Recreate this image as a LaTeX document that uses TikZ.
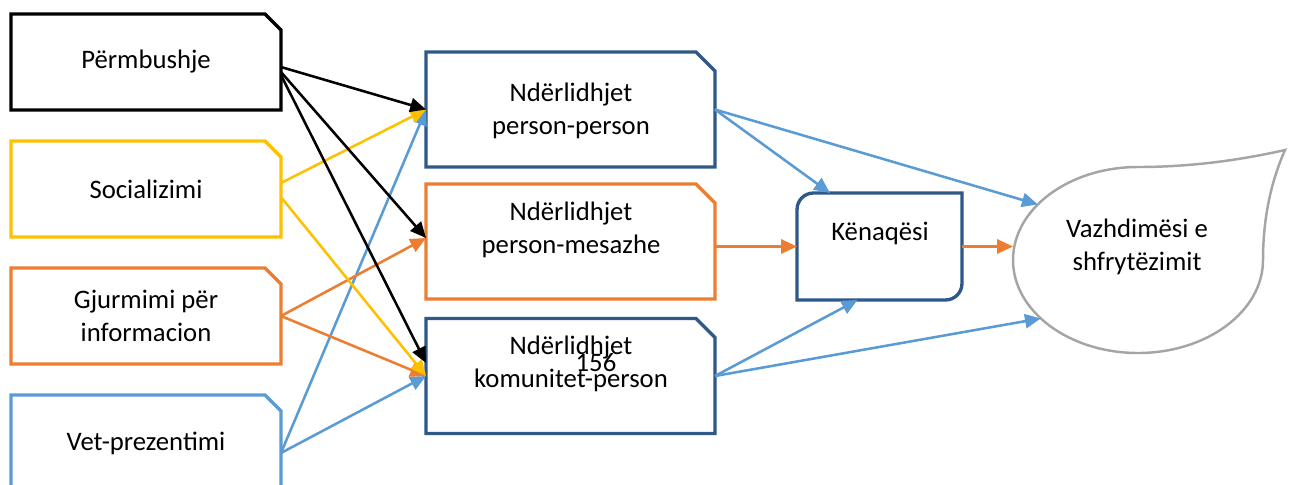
\documentclass[tikz,border=0pt]{standalone}
\usepackage{fontspec}
\setmainfont{Carlito}
\usepackage{tikz}
\usetikzlibrary{arrows.meta, shapes.geometric, calc}

\definecolor{wdgold}{HTML}{FFC000}
\definecolor{wdorange}{HTML}{ED7D31}
\definecolor{wdblue}{HTML}{5B9BD5}
\definecolor{wdnavy}{HTML}{2E5887}
\definecolor{wdgray}{HTML}{A5A5A5}

\tikzset{
  lbl/.style={font=\fontsize{15.2}{18.7}\selectfont, align=center},
  leftbox/.style={minimum width=5.4cm, minimum height=1.92cm, inner sep=0pt, outer sep=0pt},
  midbox/.style={minimum width=5.78cm, minimum height=2.3cm, inner sep=0pt, outer sep=0pt},
  boxline/.style={line width=1.9pt, line join=miter},
  link/.style={line width=1.45pt, -{Triangle[length=9pt,width=8pt]}},
}
% box with the top right corner cut off: node, colour, cut
\newcommand{\snipframe}[3]{%
  \draw[boxline, #2] (#1.south west) -- (#1.north west) -- ([xshift=-#3]#1.north east)
    -- ([yshift=-#3]#1.north east) -- (#1.south east) -- cycle;}

\begin{document}
\begin{tikzpicture}[x=0.02cm, y=-0.02cm]
  \useasboundingbox (0,0) rectangle (1291,484);
  \clip (0,0) rectangle (1291,484);

  % Left column
  \node[leftbox, lbl] (perm) at (146,62) {Përmbushje};
  \node[leftbox, lbl] (soc) at (146,189) {Socializimi};
  \node[leftbox, lbl] (gjur) at (146,316) {Gjurmimi për\\informacion};
  \node[leftbox, lbl] (vet) at (146,443) {Vet-prezentimi};
  \snipframe{perm}{black}{0.32cm}
  \snipframe{soc}{wdgold}{0.32cm}
  \snipframe{gjur}{wdorange}{0.32cm}
  \snipframe{vet}{wdblue}{0.32cm}

  % Middle column
  \node[midbox] (npp) at (570.5,109.5) {};
  \node[midbox] (npm) at (570.5,241.5) {};
  \node[midbox] (nkp) at (570.5,376) {};
  \snipframe{npp}{wdnavy}{0.38cm}
  \snipframe{npm}{wdorange}{0.38cm}
  \snipframe{nkp}{wdnavy}{0.38cm}
  \node[lbl] (nppt) at (571,111) {Ndërlidhjet\\person-person};
  \node[lbl] (npmt) at (571,230) {Ndërlidhjet\\person-mesazhe};
  \node[lbl] (nkpt) at (571,364) {Ndërlidhjet\\komunitet-person};
  \node[lbl] (pgno) at (596,363) {156};

  % Satisfaction box
  \node[minimum width=3.3cm, minimum height=2.14cm, inner sep=0pt, outer sep=0pt] (ken) at (879.5,246.5) {};
  \draw[boxline, wdnavy] (ken.west) [rounded corners=0.33cm] -- (ken.north west) -- (ken.north)
    [sharp corners] -- (ken.north east) -- (ken.east)
    [rounded corners=0.33cm] -- (ken.south east) -- (ken.south)
    [sharp corners] -- (ken.south west) -- cycle;
  \node[lbl] (kent) at (880,233) {Kënaqësi};

  % Teardrop
  \node[ellipse, minimum width=5cm, minimum height=3.72cm, inner sep=0pt, outer sep=0pt] (vaz) at (1138,260) {};
  \draw[line width=1.4pt, wdgray] (1013,260) .. controls (1013,208.7) and (1069,167) .. (1138,167)
    .. controls (1186,167) and (1235,161.3) .. (1285,150)
    .. controls (1270.3,183.3) and (1263,220) .. (1263,260)
    .. controls (1263,311.3) and (1207,353) .. (1138,353)
    .. controls (1069,353) and (1013,311.3) .. (1013,260) -- cycle;
  \node[lbl] (vazt) at (1137,247) {Vazhdimësi e\\shfrytëzimit};

  % Arrows into the middle column
  \draw[link, wdblue] ([yshift=-0.2cm]vet.east) -- (npp.west);
  \draw[link, wdblue] ([yshift=-0.2cm]vet.east) -- (nkp.west);
  \draw[link, wdorange] (gjur.east) -- ([yshift=0.07cm]npm.west);
  \draw[link, wdorange] (gjur.east) -- (nkp.west);
  \draw[link, wdgold] ([yshift=0.12cm]soc.east) -- (npp.west);
  \draw[link, wdgold] ([yshift=-0.16cm]soc.east) -- (nkp.west);
  \draw[link, black] ([yshift=-0.1cm]perm.east) -- (npp.west);
  \draw[link, black] ([yshift=-0.2cm]perm.east) -- ([yshift=0.07cm]npm.west);
  \draw[link, black] ([yshift=-0.26cm]perm.east) -- ([yshift=0.26cm]nkp.west);

  % Arrows to the right
  \draw[link, wdblue] (npp.east) -- ([xshift=0.66cm]ken.north west);
  \draw[link, wdblue] (npp.east) -- (vaz.151);
  \draw[link, wdorange] (npm.east |- ken.west) -- (ken.west);
  \draw[link, wdblue] (nkp.east) -- ([xshift=-0.44cm]ken.south);
  \draw[link, wdblue] (nkp.east) -- (vaz.211);
  \draw[link, wdorange] (ken.east) -- (ken.east -| vaz.west);
\end{tikzpicture}
\end{document}
